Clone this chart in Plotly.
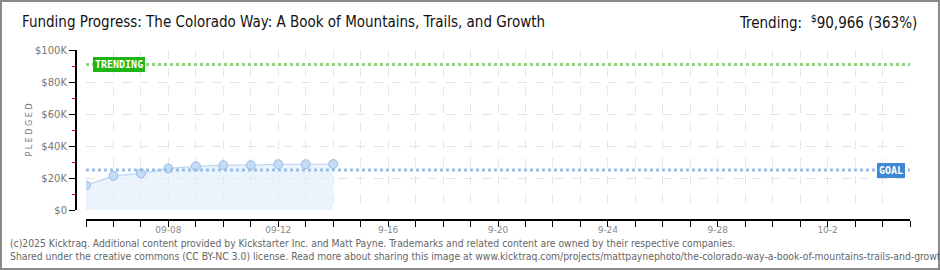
import plotly.graph_objects as go
import pandas as pd

# ---- data ----
dates = pd.date_range("2025-09-05", "2025-09-14", freq="D")
pledged = [15400, 21300, 22900, 26000, 27300, 28000, 28000, 28600, 28600, 28700]
goal = 25000
trending = 90966
trending_pct = 363
axis_start = "2025-09-05"
axis_end = "2025-10-05"
tick_days = pd.date_range(axis_start, axis_end, freq="D")
label_map = {"2025-09-08": "09-08", "2025-09-12": "09-12", "2025-09-16": "9-16",
             "2025-09-20": "9-20", "2025-09-24": "9-24", "2025-09-28": "9-28",
             "2025-10-02": "10-2"}
tick_text = [label_map.get(d.strftime("%Y-%m-%d"), " ") for d in tick_days]
y_ticks = [0, 20000, 40000, 60000, 80000, 100000]
y_tick_text = ["$0", "$20K", "$40K", "$60K", "$80K", "$100K"]

W, H = 940, 270
L, R, T, B = 76, 30, 50, 50
PW = W - L - R
PH = H - T - B

def px(xpix):
    return (xpix - L) / PW

def py(ypix):
    return (H - B - ypix) / PH

fig = go.Figure()

fig.add_trace(go.Scatter(
    x=dates, y=pledged, mode="lines+markers",
    line=dict(color="#bcd6f2", width=1.2),
    fill="tozeroy", fillcolor="rgba(225,236,250,0.65)",
    marker=dict(size=9, color="#c3dbf5", line=dict(color="#9abde4", width=1)),
    hoverinfo="skip", showlegend=False,
))

# goal & trending lines
fig.add_trace(go.Scatter(
    x=[tick_days[0], tick_days[-1]], y=[goal, goal], mode="lines",
    line=dict(color="#9dbde2", width=3, dash="dot"), showlegend=False, hoverinfo="skip"))
fig.add_trace(go.Scatter(
    x=[tick_days[0], tick_days[-1]], y=[trending, trending], mode="lines",
    line=dict(color="#8fd27c", width=3, dash="dot"), showlegend=False, hoverinfo="skip"))

dx = 10 / PW
dy = 10 / PH

fig.update_layout(
    width=W, height=H, margin=dict(l=L, r=R, t=T, b=B),
    paper_bgcolor="white", plot_bgcolor="white",
    xaxis=dict(
        domain=[dx, 1], anchor="free", position=0,
        range=[axis_start, axis_end], type="date",
        tickmode="array", tickvals=tick_days, ticktext=tick_text,
        ticks="outside", ticklen=6, tickcolor="#000", tickwidth=1,
        ticklabelstandoff=-5,
        showline=True, linecolor="#000", linewidth=2,
        showgrid=True, gridcolor="#e6e6e6", griddash="dash", gridwidth=1,
        tickfont=dict(family="DejaVu Sans", size=9, color="#888"),
        zeroline=False, fixedrange=True,
    ),
    yaxis=dict(
        domain=[dy, 1], anchor="free", position=0,
        range=[0, 100000],
        tickmode="array", tickvals=y_ticks, ticktext=y_tick_text,
        ticks="outside", ticklen=6, tickcolor="#000", tickwidth=1,
        showline=True, linecolor="#000", linewidth=2,
        showgrid=True, gridcolor="#e3e3e3", griddash="dash", gridwidth=1,
        minor=dict(dtick=10000, tick0=10000, ticks="outside", ticklen=3,
                   tickcolor="#e00000", showgrid=False),
        tickfont=dict(family="DejaVu Sans", size=10, color="#777"),
        title=dict(text="P L E D G E D", font=dict(family="DejaVu Sans", size=8, color="#777"), standoff=0),
        zeroline=False, fixedrange=True,
    ),
)

annotations = [
    dict(text="Funding Progress: The Colorado Way: A Book of Mountains, Trails, and Growth",
         xref="paper", yref="paper", x=px(20), y=py(22), xanchor="left", yanchor="middle",
         showarrow=False, font=dict(family="DejaVu Sans Condensed, DejaVu Sans", size=15, color="#111")),
    dict(text=f"Trending:  <sup>$</sup>{trending:,} ({trending_pct}%)",
         xref="paper", yref="paper", x=px(919), y=py(22), xanchor="right", yanchor="middle",
         showarrow=False, font=dict(family="DejaVu Sans Condensed, DejaVu Sans", size=15, color="#111")),
    dict(text="(c)2025 Kicktraq. Additional content provided by Kickstarter Inc. and Matt Payne. Trademarks and related content are owned by their respective companies.",
         xref="paper", yref="paper", x=px(8), y=py(243), xanchor="left", yanchor="middle",
         showarrow=False, font=dict(family="DejaVu Sans Condensed, DejaVu Sans", size=10.3, color="#666")),
    dict(text="Shared under the creative commons (CC BY-NC 3.0) license. Read more about sharing this image at www.kicktraq.com/projects/mattpaynephoto/the-colorado-way-a-book-of-mountains-trails-and-growth/",
         xref="paper", yref="paper", x=px(8), y=py(256), xanchor="left", yanchor="middle",
         showarrow=False, font=dict(family="DejaVu Sans Condensed, DejaVu Sans", size=10.3, color="#666")),
    dict(text="<b>TRENDING</b>", xref="paper", yref="y", x=px(93), y=trending,
         xanchor="left", yanchor="middle", showarrow=False,
         bgcolor="#1fb515", bordercolor="#1fb515", borderpad=1,
         font=dict(family="DejaVu Sans Mono", size=10, color="white")),
    dict(text="<b>GOAL</b>", xref="paper", yref="y", x=px(905), y=goal,
         xanchor="right", yanchor="middle", showarrow=False,
         bgcolor="#3d87d6", bordercolor="#3d87d6", borderpad=1,
         font=dict(family="DejaVu Sans Mono", size=10, color="white")),
]
fig.update_layout(annotations=annotations)

# outer border
fig.add_shape(type="rect", xref="paper", yref="paper",
              x0=px(1), x1=px(W - 1), y0=py(H - 1), y1=py(1),
              line=dict(color="#8a8a8a", width=2), fillcolor="rgba(0,0,0,0)", layer="below")

fig.write_html("out.html")
